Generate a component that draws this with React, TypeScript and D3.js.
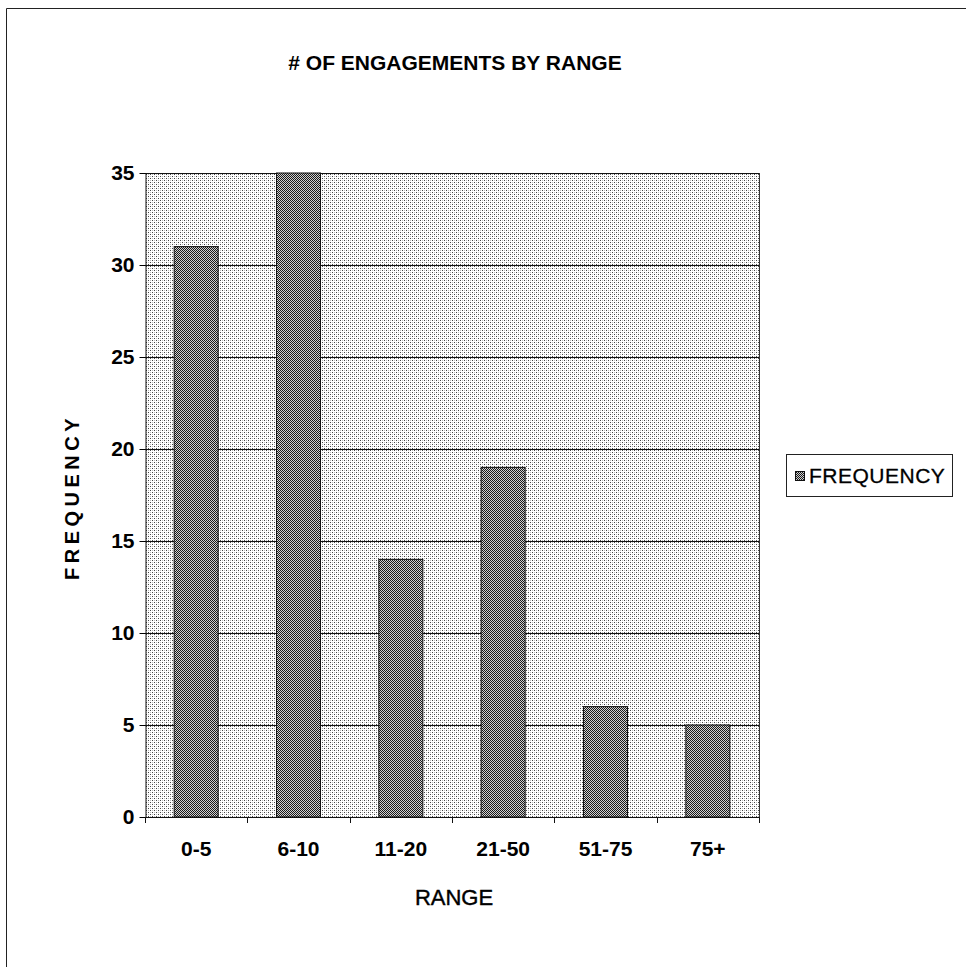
import { useRef, useEffect } from 'react';
import * as d3 from 'd3';

const categories = ['0-5', '6-10', '11-20', '21-50', '51-75', '75+'];
const frequency = [31, 35, 14, 19, 6, 5];
const yTicks = [0, 5, 10, 15, 20, 25, 30, 35];

const App = () => {
  const svgRef = useRef<SVGSVGElement>(null);

  useEffect(() => {
    const svg = d3.select(svgRef.current);
    svg.selectAll('*').remove();

    const left = 145, right = 759, top = 173, bottom = 817;
    const font = '"Liberation Sans", Arial, sans-serif';

    const defs = svg.append('defs');
    // light dotted fill of the plot area
    const bg = defs.append('pattern')
      .attr('id', 'dots').attr('width', 4).attr('height', 4)
      .attr('patternUnits', 'userSpaceOnUse');
    bg.append('rect').attr('width', 4).attr('height', 4).attr('fill', '#fff');
    bg.append('rect').attr('x', 0).attr('y', 0).attr('width', 1).attr('height', 1).attr('fill', '#444');
    bg.append('rect').attr('x', 2).attr('y', 2).attr('width', 1).attr('height', 1).attr('fill', '#444');
    bg.append('rect').attr('x', 2).attr('y', 0).attr('width', 1).attr('height', 1).attr('fill', '#bbb');
    bg.append('rect').attr('x', 0).attr('y', 2).attr('width', 1).attr('height', 1).attr('fill', '#bbb');

    // dense checker fill of the bars
    const hatch = defs.append('pattern')
      .attr('id', 'hatch').attr('width', 2).attr('height', 2)
      .attr('patternUnits', 'userSpaceOnUse');
    hatch.append('rect').attr('width', 2).attr('height', 2).attr('fill', '#d0d0d0');
    hatch.append('rect').attr('x', 0).attr('y', 0).attr('width', 1).attr('height', 1).attr('fill', '#1a1a1a');
    hatch.append('rect').attr('x', 1).attr('y', 1).attr('width', 1).attr('height', 1).attr('fill', '#1a1a1a');

    // outer frame (left and top edges only visible)
    svg.append('path')
      .attr('d', 'M6.5,967 L6.5,8.5 L966,8.5')
      .attr('fill', 'none').attr('stroke', '#222').attr('stroke-width', 1);

    const x = d3.scaleBand()
      .domain(categories)
      .range([left, right])
      .paddingInner(0.57)
      .paddingOuter(0.285);

    const y = d3.scaleLinear()
      .domain([0, 35])
      .range([bottom, top]);

    svg.append('rect')
      .attr('x', left).attr('y', top)
      .attr('width', right - left).attr('height', bottom - top)
      .attr('fill', 'url(#dots)');

    svg.append('g').selectAll('line')
      .data(yTicks)
      .join('line')
      .attr('x1', left).attr('x2', right)
      .attr('y1', d => Math.round(y(d)) + 0.5).attr('y2', d => Math.round(y(d)) + 0.5)
      .attr('stroke', '#111').attr('stroke-width', 1);

    svg.append('line')
      .attr('x1', right + 0.5).attr('x2', right + 0.5)
      .attr('y1', top).attr('y2', bottom)
      .attr('stroke', '#333');

    svg.append('g').selectAll('rect')
      .data(frequency)
      .join('rect')
      .attr('x', (d, i) => x(categories[i]))
      .attr('y', d => y(d))
      .attr('width', x.bandwidth())
      .attr('height', d => bottom - y(d))
      .attr('fill', 'url(#hatch)')
      .attr('stroke', '#111').attr('stroke-width', 1);

    const yAxis = svg.append('g')
      .attr('transform', `translate(${left + 0.5},0)`)
      .call(d3.axisLeft(y).tickValues(yTicks).tickSize(6).tickPadding(5).tickSizeOuter(0));
    yAxis.select('.domain').attr('stroke', '#111');
    yAxis.selectAll('text')
      .attr('font-family', font).attr('font-size', 21).attr('font-weight', 'bold').attr('fill', '#000');

    const boundaries = d3.range(categories.length + 1).map(i => left + i * x.step());
    const xAxis = svg.append('g');
    xAxis.append('line')
      .attr('x1', left).attr('x2', right)
      .attr('y1', bottom + 0.5).attr('y2', bottom + 0.5)
      .attr('stroke', '#111');
    xAxis.selectAll('line.tick')
      .data(boundaries)
      .join('line')
      .attr('class', 'tick')
      .attr('x1', d => Math.round(d) + 0.5).attr('x2', d => Math.round(d) + 0.5)
      .attr('y1', bottom).attr('y2', bottom + 6)
      .attr('stroke', '#111');
    xAxis.selectAll('text')
      .data(categories)
      .join('text')
      .attr('x', d => (x(d) as number) + x.bandwidth() / 2)
      .attr('y', 856)
      .attr('text-anchor', 'middle')
      .attr('font-family', font).attr('font-size', 21).attr('font-weight', 'bold')
      .text(d => d);

    svg.append('text')
      .attr('x', 455).attr('y', 70)
      .attr('text-anchor', 'middle')
      .attr('font-family', font).attr('font-size', 21).attr('font-weight', 'bold')
      .text('# OF ENGAGEMENTS BY RANGE');

    svg.append('text')
      .attr('transform', 'translate(79,497) rotate(-90)')
      .attr('text-anchor', 'middle')
      .attr('font-family', font).attr('font-size', 20).attr('font-weight', 'bold')
      .attr('letter-spacing', 4.5)
      .text('FREQUENCY');

    svg.append('text')
      .attr('x', 454).attr('y', 905)
      .attr('text-anchor', 'middle')
      .attr('font-family', font).attr('font-size', 22)
      .attr('stroke', '#000').attr('stroke-width', 0.4)
      .text('RANGE');

    const legend = svg.append('g');
    legend.append('rect')
      .attr('x', 786.5).attr('y', 454.5).attr('width', 166).attr('height', 42)
      .attr('fill', '#fff').attr('stroke', '#222');
    legend.append('rect')
      .attr('x', 795.5).attr('y', 471.5).attr('width', 9).attr('height', 9)
      .attr('fill', 'url(#hatch)').attr('stroke', '#111');
    legend.append('text')
      .attr('x', 809).attr('y', 483)
      .attr('font-family', font).attr('font-size', 21)
      .attr('letter-spacing', 0.5)
      .attr('stroke', '#000').attr('stroke-width', 0.3)
      .text('FREQUENCY');
  }, []);

  return <svg ref={svgRef} width="966" height="967" style={{ position: 'absolute', left: 0, top: 0 }}></svg>;
};

export default App;
